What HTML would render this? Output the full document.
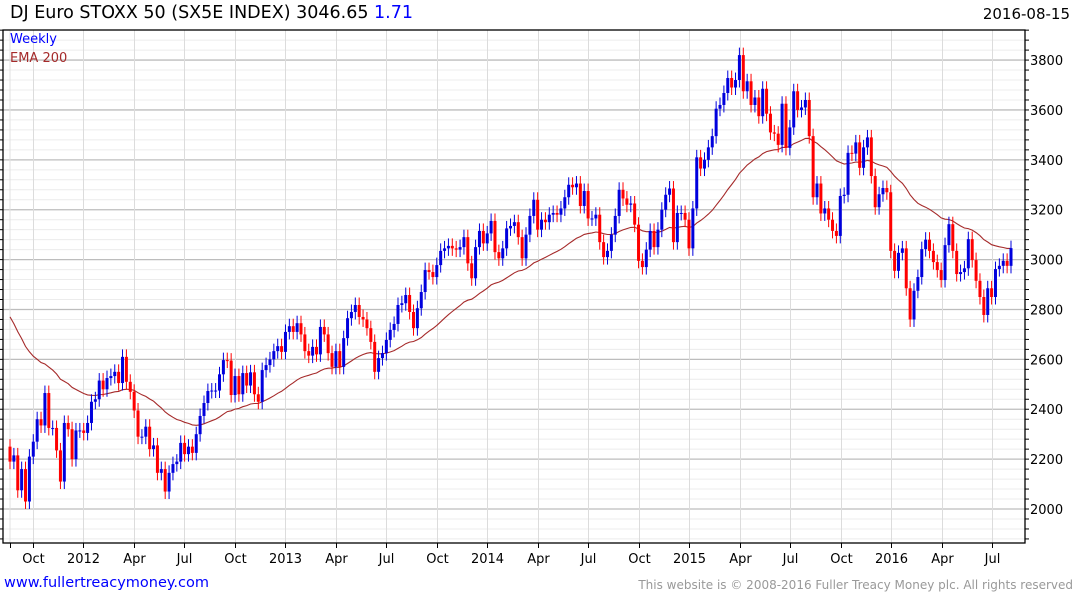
<!DOCTYPE html>
<html><head><meta charset="utf-8"><style>
body{margin:0;background:#fff;width:1075px;height:600px;overflow:hidden;font-family:"DejaVu Sans","Liberation Sans",sans-serif}
svg{position:absolute;left:0;top:0}
</style></head><body>
<svg id="c" width="1075" height="600"></svg>
<script>
const closes=[2190,2215,2075,2160,2030,2210,2270,2360,2335,2465,2325,2325,2235,2110,2345,2320,2200,2315,2315,2305,2345,2430,2440,2515,2480,2525,2533,2550,2505,2610,2510,2470,2395,2290,2290,2330,2240,2255,2145,2160,2070,2145,2180,2190,2265,2220,2250,2225,2300,2373,2425,2473,2475,2475,2540,2597,2595,2457,2533,2460,2545,2495,2548,2460,2430,2557,2577,2600,2633,2653,2630,2710,2733,2710,2745,2700,2633,2615,2650,2620,2730,2700,2625,2570,2633,2570,2685,2765,2790,2818,
2770,2760,2725,2670,2550,2605,2625,2678,2718,2742,2818,2825,2858,2790,2725,2805,2870,2958,2950,2930,2978,3035,3045,3055,3045,3040,3050,3090,2985,2925,3050,3115,3065,3105,3155,3030,3005,3045,3125,3135,3150,3090,3005,3100,3175,3240,3120,3160,3150,3180,3187,3180,3205,3250,3300,3290,3305,3215,3275,3165,3165,3180,3070,3010,3035,3100,3175,3280,3245,3220,3225,3140,2995,2970,3040,3115,3050,3120,3200,3260,3285,3070,3187,3187,3160,3045,3205,
3410,3365,3400,3450,3495,3605,3620,3668,3728,3690,3720,3820,3675,3715,3620,3650,3575,3685,3585,3510,3505,3460,3625,3448,3530,3675,3600,3610,3640,3495,3250,3305,3185,3205,3160,3115,3095,3255,3260,3428,3425,3470,3368,3450,3490,3335,3210,3262,3287,3270,3035,2955,3027,3045,2885,2760,2875,2930,3042,3080,3035,2990,2958,2918,3058,3142,3035,2942,2950,2965,3082,2998,2915,2850,2778,2885,2850,2962,2975,2995,2975,3046];
const firstOpen=2250;
const emaStart=2800;
const emaPeriod=40;
const yTicks=[2000,2200,2400,2600,2800,3000,3200,3400,3600,3800];
const xLabels=["Oct","2012","Apr","Jul","Oct","2013","Apr","Jul","Oct","2014","Apr","Jul","Oct","2015","Apr","Jul","Oct","2016","Apr","Jul"];
const xLabelWeek=[6,19,32,45,58,71,84,97,110,123,136,149,162,175,188,201,214,227,240,253];

const NS="http://www.w3.org/2000/svg",svg=document.getElementById('c');
function el(t,a,p){const e=document.createElementNS(NS,t);for(const k in a)e.setAttribute(k,a[k]);(p||svg).appendChild(e);return e;}
const L=3,R=1025,T=30,B=543;
const vMin=2000-(B-509)/0.2494, vMax=2000+(509-T)/0.2494;
const y=v=>B-(v-vMin)/(vMax-vMin)*(B-T);
const n=closes.length;
const x=i=>10+i*(1011-10)/(n-1);
const wx=w=>33+(w-6)*(992-33)/(253-6);

const grid=el('g',{});
for(let v=1880;v<=vMax;v+=40){const maj=v%200===0;
 el('line',{x1:L,x2:R,y1:y(v),y2:y(v),stroke:maj?'#bdbdbd':'#ececec','stroke-width':maj?1.3:1},grid);
 el('line',{x1:R,x2:R+4,y1:y(v),y2:y(v),stroke:'#000'},grid);
 el('line',{x1:0,x2:L,y1:y(v),y2:y(v),stroke:'#000'},grid);}
el('line',{x1:10,x2:10,y1:T,y2:B,stroke:'#e0e0e0'},grid);
xLabelWeek.forEach((w,k)=>{const xx=Math.round(wx(w))+0.5;
 el('line',{x1:xx,x2:xx,y1:T,y2:B,stroke:'#dcdcdc'},grid);
 el('line',{x1:xx,x2:xx,y1:B,y2:B+5,stroke:'#000'},grid);
 const t=el('text',{x:xx,y:563,'text-anchor':'middle','font-size':13,fill:'#000'});t.textContent=xLabels[k];
 
 });
el('line',{x1:10.5,x2:10.5,y1:B,y2:B+5,stroke:'#000'},grid);
yTicks.forEach(v=>{const t=el('text',{x:1030,y:y(v)+5,'font-size':13,fill:'#000'});t.textContent=v;
 
 });
el('rect',{x:L,y:T,width:R-L,height:B-T,fill:'none',stroke:'#000','stroke-width':1.3});

let e=emaStart,pts=[];const k=2/(emaPeriod+1);
closes.forEach((c,i)=>{e=c*k+e*(1-k);pts.push(x(i).toFixed(1)+','+y(e).toFixed(1));});
const ema=el('polyline',{points:pts.join(' '),fill:'none',stroke:'#a52a2a','stroke-width':1.1});



const cg=el('g',{});
closes.forEach((c,i)=>{const o=i?closes[i-1]:firstOpen;const up=c>=o;const col=up?'#0000dd':'#ff0000';
 const hi=Math.max(o,c)+30,lo=Math.min(o,c)-30;const xx=x(i);
 const g=el('g',{},cg);
 
 
 el('line',{x1:xx,x2:xx,y1:y(hi),y2:y(lo),stroke:col,'stroke-width':1},g);
 const top=y(Math.max(o,c)),bot=y(Math.min(o,c));
 el('rect',{x:xx-1.5,y:top,width:3,height:Math.max(1,bot-top),fill:col},g);});
</script>
<div style="position:absolute;left:10px;top:3px;font-size:17.5px;color:#000">DJ Euro STOXX 50 (SX5E INDEX) 3046.65 <span style="color:#0000ff">1.71</span></div>
<div style="position:absolute;right:5px;top:5px;font-size:15px;color:#000">2016-08-15</div>
<div style="position:absolute;left:10px;top:32px;font-size:13px;color:#0000ff">Weekly</div>
<div style="position:absolute;left:10px;top:51px;font-size:13px;color:#a52a2a">EMA 200</div>
<div style="position:absolute;left:4px;top:575px;font-size:14.5px;color:#0000ff">www.fullertreacymoney.com</div>
<div style="position:absolute;right:2px;top:578px;font-size:12px;color:#999">This website is © 2008-2016 Fuller Treacy Money plc. All rights reserved</div>
</body></html>
